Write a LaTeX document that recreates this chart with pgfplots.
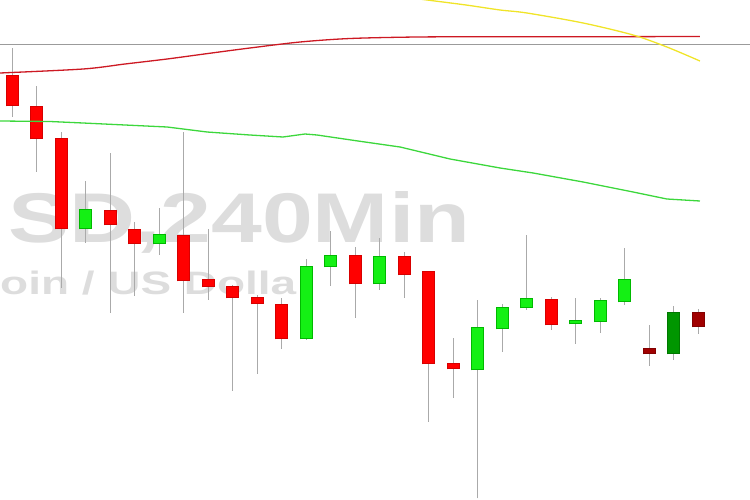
\documentclass[border=0pt]{standalone}
\usepackage{pgfplots}
\usepackage{pgfplotstable}
\usepackage{graphicx}
\usepackage{fontspec}
\setmainfont{Liberation Sans}
\pgfplotsset{compat=1.18}

\definecolor{wm}{RGB}{221,221,221}
\definecolor{wick}{RGB}{170,170,170}
\definecolor{hline}{RGB}{155,155,155}
\definecolor{rfill}{RGB}{255,0,0}
\definecolor{rborder}{RGB}{215,0,0}
\definecolor{gfill}{RGB}{20,240,20}
\definecolor{gborder}{RGB}{0,185,0}
\definecolor{drfill}{RGB}{160,0,0}
\definecolor{drborder}{RGB}{130,0,0}
\definecolor{dgfill}{RGB}{0,150,0}
\definecolor{dgborder}{RGB}{0,120,0}
\definecolor{mared}{RGB}{205,25,35}
\definecolor{magreen}{RGB}{60,215,60}
\definecolor{mayellow}{RGB}{240,228,40}

% candles: x = bar index, prices on a 0..500 scale
\pgfplotstableread{
x open high low close
0 424 452 383 394
1 393 414 328 361
2 361 368 212 271
4 289 347 187 275
5 270 278 204 256
7 264 368 187 219
8 220 271 200 213
9 213 215 109 202
10 202 205 126 196
11 195 202 151 161
14 244 253 182 216
16 243 248 202 225
17 228 229 78 136
18 136 162 102 131
22 200 203 170 175
}\redcandles

\pgfplotstableread{
x open high low close
3 271 319 257 290
6 256 292 245 265
12 161 241 160 233
13 233 269 214 244
15 216 262 210 243
19 130 200 2 172
20 171 196 148 192
21 192 265 190 201
23 176 202 156 179
24 178 202 167 199
25 198 252 195 220
}\greencandles

\pgfplotstableread{
x open high low close
26 151 175 134 146
28 187 191 166 173
}\darkredcandles

\pgfplotstableread{
x open high low close
27 146 194 140 187
}\darkgreencandles

\pgfplotsset{nomark/.style={only marks, mark=*, mark size=0pt,
  mark options={draw=none, fill=none}}}

\newcommand{\candles}[3]{%
  \addplot[nomark, error bars/.cd, y dir=plus, y explicit,
    error mark=none, error bar style={line width=1bp, color=wick}]
    table[x=x, y=low, y error expr={\thisrow{high}-\thisrow{low}}] {#1};
  \addplot[nomark, error bars/.cd, y dir=plus, y explicit,
    error mark=none, error bar style={line width=13bp, color=#2}]
    table[x=x, y expr={min(\thisrow{open},\thisrow{close})-0.5},
          y error expr={abs(\thisrow{open}-\thisrow{close})+1}] {#1};
  \addplot[nomark, error bars/.cd, y dir=plus, y explicit,
    error mark=none, error bar style={line width=11bp, color=#3}]
    table[x=x, y expr={min(\thisrow{open},\thisrow{close})+0.5},
          y error expr={abs(\thisrow{open}-\thisrow{close})-1}] {#1};
}

\begin{document}
\begin{tikzpicture}
\useasboundingbox (0,0) rectangle (750bp,500bp);
\clip (0,0) rectangle (750bp,500bp);
\begin{axis}[
  at={(0,0)}, anchor=south west,
  width=750bp, height=500bp, scale only axis,
  xmin=-0.4898, xmax=30.1224, ymin=0, ymax=500,
  axis lines=none, ticks=none, clip=true,
]
% watermark
\node[anchor=base west, inner sep=0pt, text=wm] at (axis cs:-0.163,257)
  {\resizebox{462bp}{51bp}{\bfseries SD,240Min}};
\node[anchor=base west, inner sep=0pt, text=wm] at (axis cs:-0.49,205)
  {\resizebox{296bp}{23.5bp}{\bfseries oin / US Dolla}};

% horizontal price line
\addplot[hline, line width=1bp] coordinates {(-0.4898,455) (30.1224,455)};

\candles{\redcandles}{rborder}{rfill}
\candles{\greencandles}{gborder}{gfill}
\candles{\darkredcandles}{drborder}{drfill}
\candles{\darkgreencandles}{dgborder}{dgfill}

% moving averages
\addplot[mared, line width=1.3bp, smooth] coordinates {
(-0.49,427) (2.90,431) (4.61,436) (6.33,441) (8.00,446.5) (9.71,452)
(11.76,458) (13.80,461.5) (16.53,463) (19.92,463.3) (24.0,463.3) (28.08,463.5)};
\addplot[magreen, line width=1.3bp] coordinates {
(-0.49,379) (1.55,378.5) (2.90,377) (4.61,375) (6.33,373) (7.96,368)
(9.71,365) (11.06,363) (11.96,366) (12.45,365) (14.12,359) (15.84,353)
(17.88,341) (19.92,332) (21.27,327) (23.31,318) (25.35,308) (26.73,301) (28.08,299)};
\addplot[mayellow, line width=1.3bp, smooth] coordinates {
(15.02,506) (16.94,500) (18.53,495) (19.92,490) (21.02,487) (23.31,477)
(25.35,465) (26.73,453) (28.08,439)};
\end{axis}
\end{tikzpicture}
\end{document}
